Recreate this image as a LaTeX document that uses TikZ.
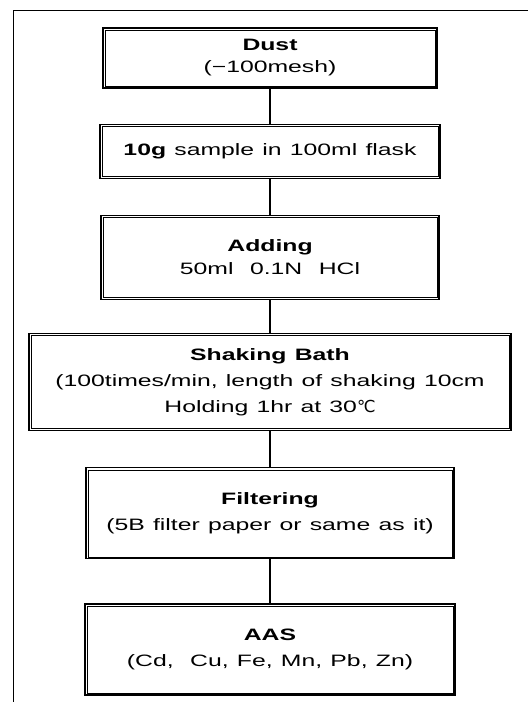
\documentclass[tikz,border=0pt]{standalone}
\usepackage{fontspec}
\setmainfont{Liberation Sans}[FakeStretch=1.5,WordSpace=1.2]
\newfontfamily\degfont{DejaVu Sans}
\usetikzlibrary{positioning}
\tikzset{
    stepbox/.style = {rectangle, draw=black, line width=1.2pt, align=center, inner sep=2pt, font=\fontsize{16.5}{26}\selectfont},
    innerline/.style = {line width=0.6pt},
    link/.style = {line width=2.8pt}
}

\begin{document}
\begin{tikzpicture}[x=1pt, y=1pt]
\useasboundingbox (0,0) rectangle (528,-702);
\draw [line width=0.8pt] (528,-10) -| (13,-702);

\node (dust) [stepbox, minimum width=334pt, minimum height=60pt, font=\fontsize{16.5}{22}\selectfont] at (270,-58) {\textbf{Dust}\\(−100mesh)};
\node (sample) [stepbox, minimum width=340pt, minimum height=54pt, below=35pt of dust] {\textbf{10g} sample in 100ml flask};
\node (adding) [stepbox, minimum width=338pt, minimum height=84pt, below=36pt of sample, font=\fontsize{16.5}{23}\selectfont] {\textbf{Adding}\\50ml\ \ 0.1N\ \ HCl};
\node (shaking) [stepbox, minimum width=482pt, minimum height=97pt, below=33pt of adding] {\textbf{Shaking Bath}\\(100times/min, length of shaking 10cm\\Holding 1hr at 30{\degfont ℃}};
\node (filter) [stepbox, minimum width=368pt, minimum height=91pt, below=36pt of shaking] {\textbf{Filtering}\\(5B filter paper or same as it)};
\node (aas) [stepbox, minimum width=370pt, minimum height=91pt, below=44pt of filter] {\textbf{AAS}\\(Cd,\ \ Cu, Fe, Mn, Pb, Zn)};

% inner frame of each box
\foreach \n in {dust,sample,adding,shaking,filter,aas}
    \draw [innerline] ([shift={(2.6pt,2.6pt)}]\n.south west) rectangle ([shift={(-2.6pt,-2.6pt)}]\n.north east);

\draw [link] (dust) -- (sample);
\draw [link] (sample) -- (adding);
\draw [link] (adding) -- (shaking);
\draw [link] (shaking) -- (filter);
\draw [link] (filter) -- (aas);
\end{tikzpicture}
\end{document}
